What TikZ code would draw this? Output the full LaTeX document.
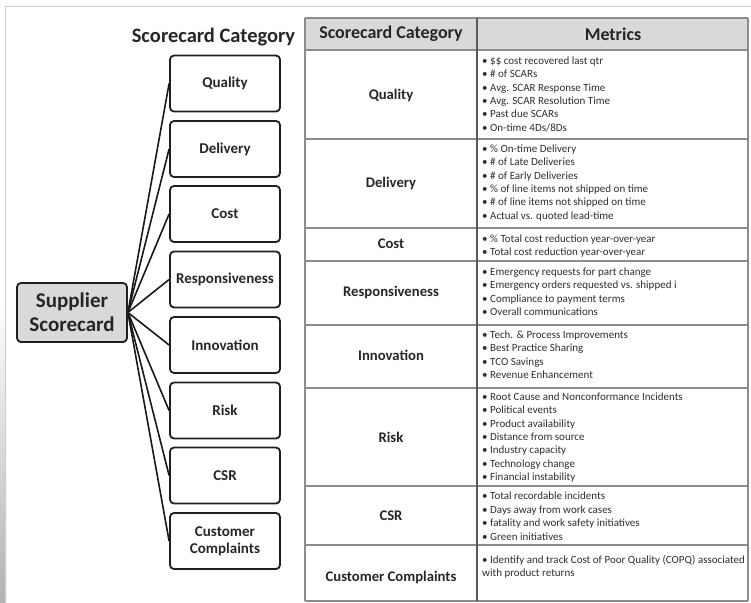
\documentclass[tikz,border=0pt]{standalone}
\usepackage{fontspec}
\setmainfont{Carlito}
\begin{document}
\begin{tikzpicture}[x=1pt,y=-1pt,
  catbox/.style={draw=black!88, line width=1.8pt, rounded corners=4pt,
    minimum width=110pt, minimum height=56pt, align=center, inner sep=0pt,
    font=\bfseries\fontsize{15}{17}\selectfont, text=black!85},
  hubbox/.style={catbox, fill=black!15, minimum height=59pt,
    font=\bfseries\fontsize{21}{24}\selectfont},
  link/.style={black!90, line width=1.6pt},
  grid/.style={draw=black!45, line width=1.6pt},
  coldiv/.style={draw=black!65, line width=2pt},
  rowlabel/.style={font=\bfseries\fontsize{14.7}{17}\selectfont, text=black!85, inner sep=0pt},
  metric/.style={anchor=north west, align=left, inner sep=0pt,
    font=\fontsize{11}{13.4}\selectfont, text=black!82},
  hdr/.style={font=\bfseries\fontsize{18}{21}\selectfont, text=black!85, inner sep=0pt}
]
\useasboundingbox (0,0) rectangle (751,602);
\clip (0,0) rectangle (751,602);

% page frame
\shade[top color=white, bottom color=black!30] (0,300) rectangle (6,602);
\draw[black!20, line width=1pt] (5.5,610) -- (5.5,7) -- (760,7);

% ---------- table ----------
\fill[black!15] (305,18) rectangle (748,50);
\foreach \yy in {18,50,139,228,261,325,388,486,545,601}
  \draw[grid] (305,\yy) -- (748,\yy);
\draw[grid] (305,18) -- (305,601);
\draw[grid] (748,18) -- (748,601);
\draw[coldiv] (477,18) -- (477,601);

\node[hdr] (hcat) at (391,34) {Scorecard Category};
\node[hdr] (hmet) at (613,34) {Metrics};

\node[rowlabel] (tq) at (391,95) {Quality};
\node[rowlabel] (td) at (391,183) {Delivery};
\node[rowlabel] (tc) at (391,244) {Cost};
\node[rowlabel] (tr) at (391,292) {Responsiveness};
\node[rowlabel] (ti) at (391,355) {Innovation};
\node[rowlabel] (tk) at (391,437) {Risk};
\node[rowlabel] (ts) at (391,516) {CSR};
\node[rowlabel] (tu) at (391,577) {Customer Complaints};

\node[metric] (mq) at (482,56.5) {• \$\$ cost recovered last qtr\\• \# of SCARs\\• Avg. SCAR Response Time\\• Avg. SCAR Resolution Time\\• Past due SCARs\\• On-time 4Ds/8Ds};
\node[metric] (md) at (482,144.5) {• \% On-time Delivery\\• \# of Late Deliveries\\• \# of Early Deliveries\\• \% of line items not shipped on time\\• \# of line items not shipped on time\\• Actual vs. quoted lead-time};
\node[metric] (mc) at (482,234.5) {• \% Total cost reduction year-over-year\\• Total cost reduction year-over-year};
\node[metric] (mr) at (482,267.5) {• Emergency requests for part change\\• Emergency orders requested vs. shipped i\\• Compliance to payment terms\\• Overall communications};
\node[metric] (mi) at (482,330.5) {• Tech. \& Process Improvements\\• Best Practice Sharing\\• TCO Savings\\• Revenue Enhancement};
\node[metric] (mk) at (482,392.5) {• Root Cause and Nonconformance Incidents\\• Political events\\• Product availability\\• Distance from source\\• Industry capacity\\• Technology change\\• Financial instability};
\node[metric] (ms) at (482,492) {• Total recordable incidents\\• Days away from work cases\\• fatality and work safety initiatives\\• Green initiatives};
\node[metric] (mu) at (482,555) {• Identify and track Cost of Poor Quality (COPQ) associated\\with product returns};

% ---------- tree ----------
\node[font=\bfseries\fontsize{20.5}{23}\selectfont, text=black!85, inner sep=0pt] (title) at (213.5,37) {Scorecard Category};

\node[hubbox] (hub) at (72,312.5) {Supplier\\Scorecard};

\node[catbox] (bq) at (225,83.5) {Quality};
\node[catbox] (bd) at (225,149) {Delivery};
\node[catbox] (bc) at (225,214) {Cost};
\node[catbox] (br) at (225,279.5) {Responsiveness};
\node[catbox] (bi) at (225,345) {Innovation};
\node[catbox] (bk) at (225,410.5) {Risk};
\node[catbox] (bs) at (225,475.5) {CSR};
\node[catbox] (bu) at (225,541) {Customer\\Complaints};

\foreach \b in {bq,bd,bc,br,bi,bk,bs,bu}
  \draw[link] (hub.east) -- (\b.west);
\end{tikzpicture}
\end{document}
